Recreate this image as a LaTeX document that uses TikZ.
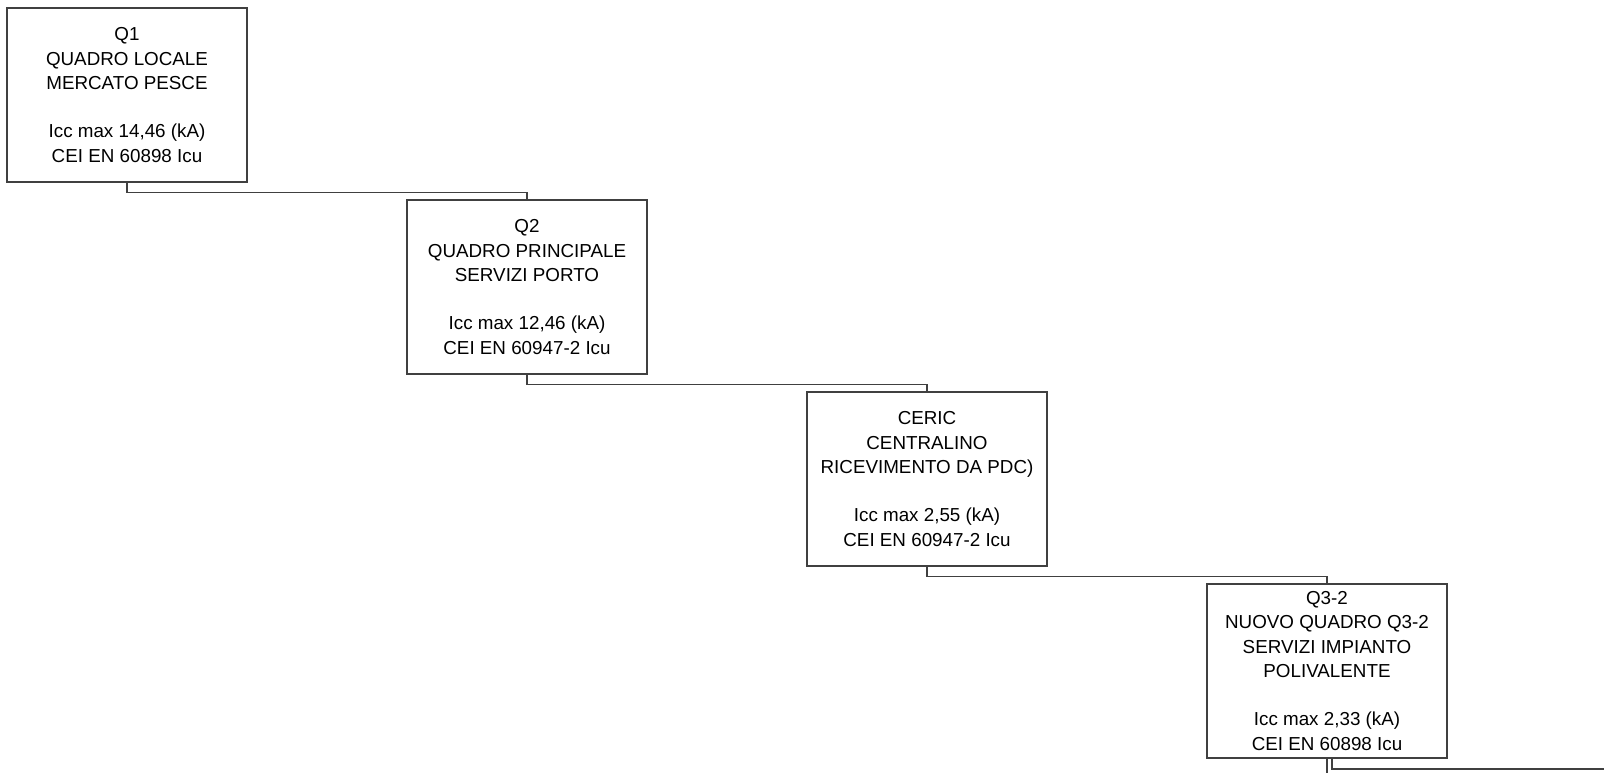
\documentclass[tikz,border=0pt]{standalone}
\usepackage{fontspec}
\setmainfont{Liberation Sans}
\definecolor{linea}{RGB}{64,64,64}
\usetikzlibrary{positioning}

\tikzset{
  quadro/.style={draw=linea, line width=0.6pt, fill=white, minimum width=4.8cm, minimum height=3.48cm,
    inner sep=0pt, align=center, font=\fontsize{10.7}{13.8}\selectfont},
  cavo/.style={draw=linea, line width=0.6pt}
}

\begin{document}
\begin{tikzpicture}
  \fill[white] (0,0) rectangle (32.08,-15.46);
  \useasboundingbox (0,0) rectangle (32.08,-15.46);

  % Quadri
  \node[quadro] (q1) at (2.54,-1.90) {Q1\\QUADRO LOCALE\\MERCATO PESCE\\[\baselineskip]Icc max 14,46 (kA)\\CEI EN 60898 Icu};
  \node[quadro] (q2) at (10.54,-5.74) {Q2\\QUADRO PRINCIPALE\\SERVIZI PORTO\\[\baselineskip]Icc max 12,46 (kA)\\CEI EN 60947-2 Icu};
  \node[quadro] (ceric) at (18.54,-9.58) {CERIC\\CENTRALINO\\RICEVIMENTO DA PDC)\\[\baselineskip]Icc max 2,55 (kA)\\CEI EN 60947-2 Icu};
  \node[quadro] (q32) at (26.54,-13.42) {Q3-2\\NUOVO QUADRO Q3-2\\SERVIZI IMPIANTO\\POLIVALENTE\\[\baselineskip]Icc max 2,33 (kA)\\CEI EN 60898 Icu};

  % Collegamenti
  \draw[cavo] (q1.south) -- ++(0,-0.19) -| (q2.north);
  \draw[cavo] (q2.south) -- ++(0,-0.19) -| (ceric.north);
  \draw[cavo] (ceric.south) -- ++(0,-0.19) -| (q32.north);

  % Uscite verso il basso
  \coordinate (giu) at (26.54,-15.46);
  \coordinate (destra) at (32.08,-15.38);
  \draw[cavo] (q32.south) -- (giu);
  \draw[cavo] ([xshift=1mm]q32.south) |- (destra);
\end{tikzpicture}
\end{document}
